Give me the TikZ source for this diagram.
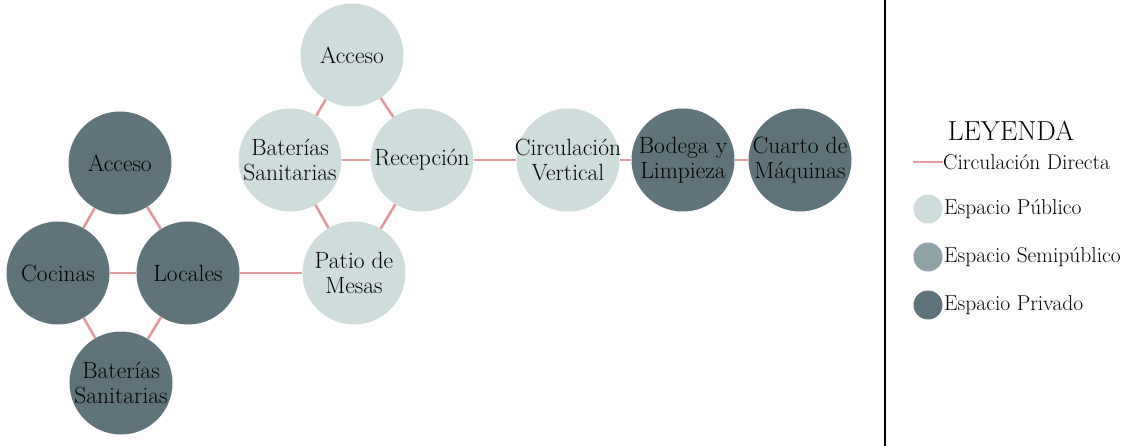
\documentclass[tikz,border=0pt]{standalone}
\usepackage{fontspec}
\begin{document}
\begin{tikzpicture}[x=1pt,y=-1pt,
  space/.style={circle,minimum size=103pt,inner sep=-40pt,align=center,font=\fontsize{23.5}{25}\selectfont},
  pub/.style={space,fill=pubc},
  priv/.style={space,fill=privc},
  link/.style={draw=linkc,line width=2.6pt},
  legtxt/.style={anchor=west,inner sep=1pt,font=\fontsize{21.5}{24}\selectfont},
  legdot/.style={circle,minimum size=29pt,inner sep=0pt}]
\definecolor{pubc}{HTML}{CFDCDC}
\definecolor{semic}{HTML}{8FA2A5}
\definecolor{privc}{HTML}{5E747A}
\definecolor{linkc}{HTML}{E09C9C}
\useasboundingbox (0,0) rectangle (1137,446);
% public group
\node[pub] (accT) at (352,55) {Acceso};
\node[pub] (batT) at (290,160) {Baterías\\Sanitarias};
\node[pub] (rec) at (422,160) {Recepción};
\node[pub] (pat) at (354,273) {Patio de\\Mesas};
\node[pub] (circ) at (568,160) {Circulación\\Vertical};
\node[priv] (bod) at (683,160) {Bodega y\\Limpieza};
\node[priv] (cua) at (800,160) {Cuarto de\\Máquinas};
% private group
\node[priv] (accL) at (120,163) {Acceso};
\node[priv] (coc) at (58,273) {Cocinas};
\node[priv] (loc) at (188,273) {Locales};
\node[priv] (batL) at (121,383) {Baterías\\Sanitarias};
% connectors
\draw[link] (accT) -- (batT);
\draw[link] (accT) -- (rec);
\draw[link] (batT) -- (rec);
\draw[link] (batT) -- (pat);
\draw[link] (rec) -- (pat);
\draw[link] (rec) -- (circ);
\draw[link] (circ) -- (bod);
\draw[link] (bod) -- (cua);
\draw[link] (accL) -- (coc);
\draw[link] (accL) -- (loc);
\draw[link] (coc) -- (loc);
\draw[link] (coc) -- (batL);
\draw[link] (loc) -- (batL);
\draw[link] (loc) -- (pat);
% divider
\coordinate (dt) at (885,0);
\coordinate (db) at (885,446);
\draw[line width=2.5pt] (dt) -- (db);
% legend
\node[font=\fontsize{27.5}{30}\selectfont] (ley) at (1011,131) {LEYENDA};
\coordinate (la) at (913,162);
\coordinate (lb) at (943,162);
\draw[link,line width=2pt] (la) -- (lb);
\node[legtxt] (l1) at (942,162) {Circulación Directa};
\node[legdot,fill=pubc] (d1) at (928,209) {};
\node[legtxt] (l2) at (943,209) {Espacio Público};
\node[legdot,fill=semic] (d2) at (928,257) {};
\node[legtxt] (l3) at (943,257) {Espacio Semipúblico};
\node[legdot,fill=privc] (d3) at (928,305) {};
\node[legtxt] (l4) at (943,305) {Espacio Privado};
\end{tikzpicture}
\end{document}
